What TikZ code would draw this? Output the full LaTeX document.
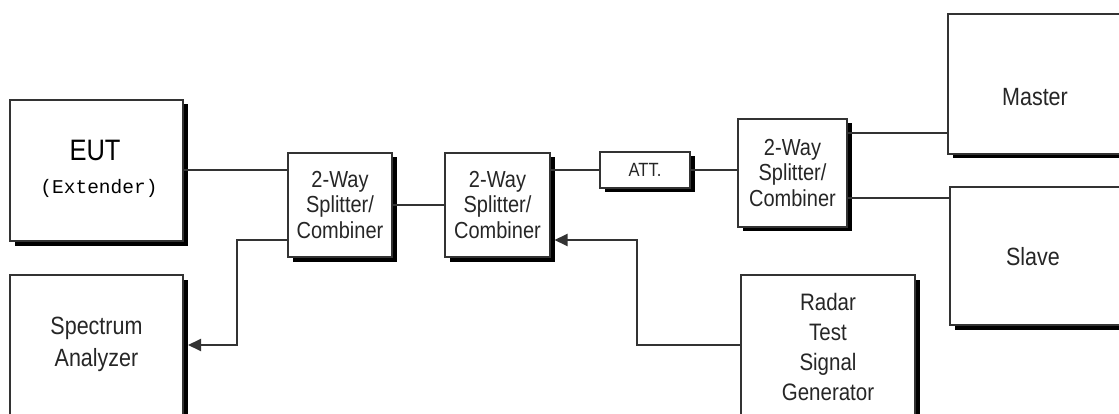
\documentclass[tikz,border=0pt]{standalone}
\usepackage{fontspec}
\setmainfont{Liberation Sans}
\setmonofont{Liberation Mono}
\usetikzlibrary{shadows,arrows.meta}
\newcommand\vs[1]{\scalebox{1}[1.16]{#1}}
\begin{document}
\begin{tikzpicture}[x=1pt,y=-1pt,
  blk/.style={draw=black!80,line width=1.4pt,fill=white,rectangle,inner sep=0pt,align=center,
     drop shadow={shadow xshift=4.5pt,shadow yshift=-4.5pt,fill=black,opacity=1}},
  txt/.style={align=center,font=\fontsize{21.5}{32}\selectfont,inner sep=0pt,text=black!85},
  stxt/.style={font=\fontsize{20}{25.5}\selectfont,text=black!85},
  wire/.style={draw=black!80,line width=1.9pt},
  arr/.style={wire,-{Triangle[length=13pt,width=12pt]}}]
\useasboundingbox (0,0) rectangle (1119,414);
% boxes
\node[blk,minimum width=173pt,minimum height=141pt] (eut) at (96.5,170.5) {};
\node[inner sep=0pt,font=\fontsize{25.5}{30}\selectfont] (euttxt) at (95,150) {\vs{EUT}};
\node[inner sep=0pt,font=\ttfamily\fontsize{19.5}{22}\selectfont] (extxt) at (99,188) {(Extender)};
\node[blk,minimum width=173pt,minimum height=150pt] (sa) at (96.5,350) {};
\node[txt] (satxt) at (96.5,344) {\vs{Spectrum}\\\vs{Analyzer}};
\node[blk,stxt,minimum width=104pt,minimum height=104pt] (s1) at (340,205) {\vs{2-Way}\\\vs{Splitter/}\\\vs{Combiner}};
\node[blk,stxt,minimum width=105pt,minimum height=104pt] (s2) at (497.5,205) {\vs{2-Way}\\\vs{Splitter/}\\\vs{Combiner}};
\node[blk,font=\fontsize{16.5}{18}\selectfont,text=black!85,minimum width=90pt,minimum height=36pt] (att) at (645,170) {\vs{ATT.}};
\node[blk,stxt,minimum width=109pt,minimum height=108pt] (s3) at (792.5,173) {\vs{2-Way}\\\vs{Splitter/}\\\vs{Combiner}};
\node[blk,minimum width=176pt,minimum height=140pt] (master) at (1036,84) {};
\node[txt] (mtxt) at (1035,97) {\vs{Master}};
\node[blk,minimum width=174pt,minimum height=138pt] (slave) at (1037,256) {};
\node[txt] (stxt) at (1033,257) {\vs{Slave}};
\node[blk,minimum width=174pt,minimum height=150pt] (rtsg) at (828,350) {};
\node[txt,font=\fontsize{20.5}{30}\selectfont] (rtxt) at (828,347) {\vs{Radar}\\\vs{Test}\\\vs{Signal}\\\vs{Generator}};
% coordinates
\coordinate (c1) at (237,240);
\coordinate (c2) at (237,345);
\coordinate (c3) at (637,345);
\coordinate (c4) at (637,240);
\coordinate (s2sh) at (554.5,240);
\coordinate (saSh) at (188,345);
\coordinate (mline) at (900,133);
\coordinate (sline) at (900,198);
% connectors
\draw[wire] (eut.east |- 0,170) -- (s1.west |- 0,170);
\draw[arr] (s1.west |- c1) -- (c1) -- (c2) -- (saSh);
\draw[wire] (s1.east) -- (s2.west);
\draw[wire] (s2.east |- att) -- (att.west);
\draw[wire] (att.east) -- (att.east -| s3.west);
\draw[arr] (rtsg.west |- c3) -- (c3) -- (c4) -- (s2sh);
\draw[wire] (s3.east |- mline) -- (master.west |- mline);
\draw[wire] (s3.east |- sline) -- (slave.west |- sline);
\end{tikzpicture}
\end{document}
